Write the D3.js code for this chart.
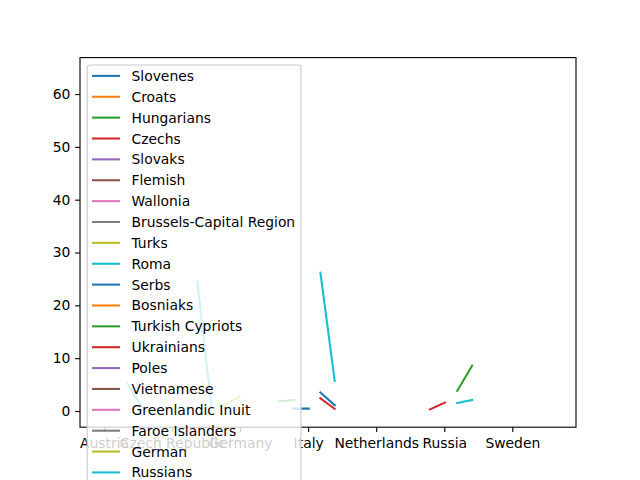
<!DOCTYPE html>
<html><head><meta charset="utf-8">
<script src="https://cdn.jsdelivr.net/npm/d3@7"></script>
<style>body{margin:0;background:#fff}svg{display:block;font-family:"DejaVu Sans",sans-serif}</style>
</head><body><svg id="c" width="640" height="480"></svg>
<script>
const seriesNames = ["Slovenes","Croats","Hungarians","Czechs","Slovaks","Flemish","Wallonia",
  "Brussels-Capital Region","Turks","Roma","Serbs","Bosniaks","Turkish Cypriots","Ukrainians",
  "Poles","Vietnamese","Greenlandic Inuit","Faroe Islanders","German","Russians"];
const countryTicks = [0,1,2,3,4,5,6];
const countryLabels = ["Austria","Czech Republic","Germany","Italy","Netherlands","Russia","Sweden"];
const yTicks = [0,10,20,30,40,50,60];

// x positions and values per series (null breaks the line)
const slovenesX = [2.78, 3.01];           const slovenesY = [0.44, 0.44];
const hungariansX = [2.57, 2.80];         const hungariansY = [1.8, 2.1];
const czechsX = [3.18, 3.39];             const czechsY = [2.4, 0.4];
const romaX = [0.34, 0.54, null, 1.37, 1.58, null, 3.18, 3.39];
const romaY = [5.3, 1.1, null, 24.6, 0.8, null, 26.2, 5.7];
const serbsX = [3.18, 3.39];              const serbsY = [3.5, 1.1];
const turkishCypriotsX = [5.19, 5.41];    const turkishCypriotsY = [3.8, 8.6];
const ukrainiansX = [4.79, 5.01];         const ukrainiansY = [0.3, 1.6];
const germanX = [1.75, 1.99];             const germanY = [1.0, 2.7];
const russiansX = [5.19, 5.41];           const russiansY = [1.5, 2.1];

const seriesData = {
  "Slovenes": [slovenesX, slovenesY],
  "Hungarians": [hungariansX, hungariansY],
  "Czechs": [czechsX, czechsY],
  "Roma": [romaX, romaY],
  "Serbs": [serbsX, serbsY],
  "Turkish Cypriots": [turkishCypriotsX, turkishCypriotsY],
  "Ukrainians": [ukrainiansX, ukrainiansY],
  "German": [germanX, germanY],
  "Russians": [russiansX, russiansY]
};

const colors = d3.schemeCategory10;
const svg = d3.select("#c");
const L = 80, R = 576, T = 57.6, B = 427.2;
const FS = "13.89px";
const x = d3.scaleLinear().domain([-0.3527, 6.936]).range([L, R]);
const y = d3.scaleLinear().domain([-3.07, 66.9]).range([B, T]);

const line = d3.line().defined(d => d[1] != null).x(d => x(d[0])).y(d => y(d[1]));
svg.append("clipPath").attr("id","pc").append("rect")
  .attr("x", L).attr("y", T).attr("width", R-L).attr("height", B-T);
const gLines = svg.append("g").attr("clip-path","url(#pc)");
seriesNames.forEach((name, i) => {
  const d = seriesData[name];
  if (!d) return;
  const pts = d[0].map((xv, k) => [xv, d[1][k]]);
  gLines.append("path").attr("d", line(pts)).attr("fill","none")
    .attr("stroke", colors[i % 10]).attr("stroke-width", 2.08).attr("stroke-linecap","square");
});

// axes
const xAxis = d3.axisBottom(x).tickValues(countryTicks).tickFormat((d,i) => countryLabels[i])
  .tickSizeOuter(0).tickSizeInner(4.86).tickPadding(4.86);
const yAxis = d3.axisLeft(y).tickValues(yTicks).tickFormat(d3.format("d"))
  .tickSizeOuter(0).tickSizeInner(4.86).tickPadding(4.86);
const gx = svg.append("g").attr("transform", `translate(0,${B})`).call(xAxis);
const gy = svg.append("g").attr("transform", `translate(${L},0)`).call(yAxis);
[gx, gy].forEach(g => {
  g.select(".domain").remove();
  g.selectAll("line").attr("stroke","#000").attr("stroke-width",1.11);
  g.selectAll("text").attr("fill","#000").attr("font-size",FS).attr("font-family","DejaVu Sans");
});
gx.selectAll("text").attr("dy", null).attr("y", 20.6);
svg.append("rect").attr("x", L).attr("y", T).attr("width", R-L).attr("height", B-T)
  .attr("fill","none").attr("stroke","#000").attr("stroke-width",1.11);

// legend
const lg = svg.append("g");
const lx = 87.3, ly = 65, lw = 213.7, rowH = 20.87, firstY = 75.9;
lg.append("rect").attr("x", lx).attr("y", ly).attr("width", lw)
  .attr("height", firstY - ly + rowH * seriesNames.length + 6)
  .attr("rx", 2.8).attr("fill","#fff").attr("fill-opacity",0.8)
  .attr("stroke","#cccccc").attr("stroke-width",1.11);
seriesNames.forEach((name, i) => {
  const cy = firstY + i * rowH;
  lg.append("line").attr("x1", 92).attr("x2", 120).attr("y1", cy).attr("y2", cy)
    .attr("stroke", colors[i % 10]).attr("stroke-width", 2.08);
  lg.append("text").attr("x", 131.5).attr("y", cy + 5).text(name)
    .attr("font-size",FS).attr("fill","#000");
});
</script></body></html>
